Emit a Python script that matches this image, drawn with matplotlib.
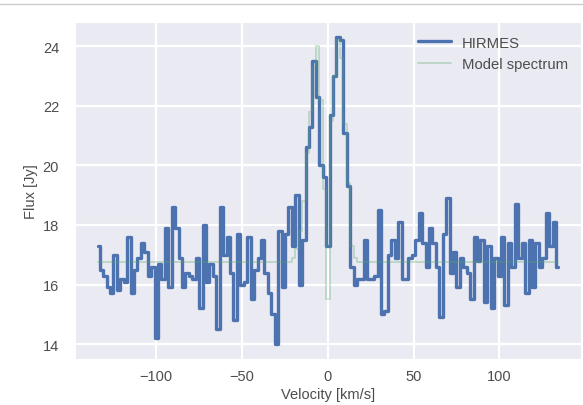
import numpy as np
import matplotlib
matplotlib.use("Agg")
import matplotlib.pyplot as plt
from matplotlib.lines import Line2D
import seaborn as sns

# channel velocities (km/s), 2 km/s channels
velocity = np.arange(-134, 136, 2)

hirmes_flux = [
    17.3, 16.5, 16.3, 15.9, 15.7, 17.0, 15.8, 16.2, 16.1, 17.6,   # -134 .. -116
    15.7, 16.5, 16.9, 17.4, 17.1, 16.3, 16.6, 14.2, 16.7, 16.2,   # -114 .. -96
    17.9, 15.9, 18.6, 17.9, 16.9, 15.9, 16.4, 16.3, 16.2, 16.9,   # -94 .. -76
    15.2, 18.0, 16.1, 16.7, 16.3, 14.5, 18.6, 17.0, 17.6, 16.4,   # -74 .. -56
    14.8, 17.7, 16.0, 16.1, 17.6, 15.5, 16.5, 16.9, 17.5, 16.4,   # -54 .. -36
    15.7, 15.0, 14.0, 17.8, 15.9, 17.7, 18.6, 17.3, 19.0, 16.0,   # -34 .. -16
    17.5, 20.6, 21.3, 23.5, 22.3, 20.0, 19.6, 17.3, 21.7, 23.0,   # -14 .. 4
    24.3, 24.2, 21.1, 19.3, 16.6, 16.0, 16.2, 16.2, 17.5, 16.2,   # 6 .. 24
    16.2, 16.3, 18.5, 15.0, 15.1, 17.0, 17.5, 16.9, 18.1, 16.2,   # 26 .. 44
    16.2, 16.9, 17.0, 17.5, 18.4, 17.4, 16.6, 17.9, 17.4, 16.6,   # 46 .. 64
    14.9, 17.7, 18.9, 16.4, 17.1, 15.9, 16.9, 16.6, 16.4, 15.5,   # 66 .. 84
    17.6, 16.8, 17.5, 15.4, 17.3, 15.2, 16.9, 16.3, 17.6, 15.3,   # 86 .. 104
    17.4, 16.6, 18.7, 16.9, 17.4, 15.7, 17.5, 15.9, 17.4, 16.6,   # 106 .. 124
    16.9, 18.4, 17.3, 18.1, 16.6,                                 # 126 .. 134
]

# model spectrum (Jy): flat continuum with a double-peaked line
model_base = 16.75
model_line_v = [-20, -18, -16, -14, -12, -10, -8, -6, -4, -2,
                0, 2, 4, 6, 8, 10, 12, 14, 16]
model_line_flux = [16.9, 17.2, 17.8, 18.8, 20.4, 21.8, 23.3, 24.0, 22.2, 19.2,
                   15.5, 21.5, 23.0, 24.2, 23.6, 21.4, 19.4, 17.3, 16.9]

model_flux = np.full(len(velocity), model_base)
for v, f in zip(model_line_v, model_line_flux):
    model_flux[velocity == v] = f

sns.set_style("darkgrid")
plt.rcParams["font.family"] = ["Liberation Sans", "DejaVu Sans"]

fig = plt.figure(figsize=(5.83, 4.06), dpi=100)
ax = fig.add_axes([75 / 583, 46 / 406, 506 / 583, 336.7 / 406])

ax.plot(velocity, hirmes_flux, drawstyle="steps-mid", color="#4C72B0",
        lw=2.4, label="HIRMES")
ax.plot(velocity, model_flux, drawstyle="steps-mid", color="#55A868",
        lw=1.4, alpha=0.3, label="Model spectrum")

ax.set_xlim(-147.4, 147.6)
ax.set_ylim(13.5, 24.8)
ax.set_xticks([-100, -50, 0, 50, 100])
ax.set_yticks([14, 16, 18, 20, 22, 24])
ax.grid(True, color="white", lw=1.6)
ax.tick_params(axis="x", labelsize=10.5, colors="0.3", pad=7, length=0)
ax.tick_params(axis="y", labelsize=10.5, colors="0.3", pad=11.5, length=0)

ax.set_xlabel("Velocity [km/s]", fontsize=10.5, color="0.3", labelpad=3)
ax.set_ylabel("Flux [Jy]", fontsize=10.5, color="0.3", labelpad=3)

ax.legend(loc="upper right", fontsize=10.7, frameon=False, handlelength=2.2,
          handletextpad=0.7, labelcolor="0.3")

# thin separator line at top of the screenshot
fig.add_artist(Line2D([0, 1], [1 - 5 / 406, 1 - 5 / 406], color="0.8", lw=1,
                      transform=fig.transFigure))

fig.savefig("out.png", dpi=100, facecolor="white")
